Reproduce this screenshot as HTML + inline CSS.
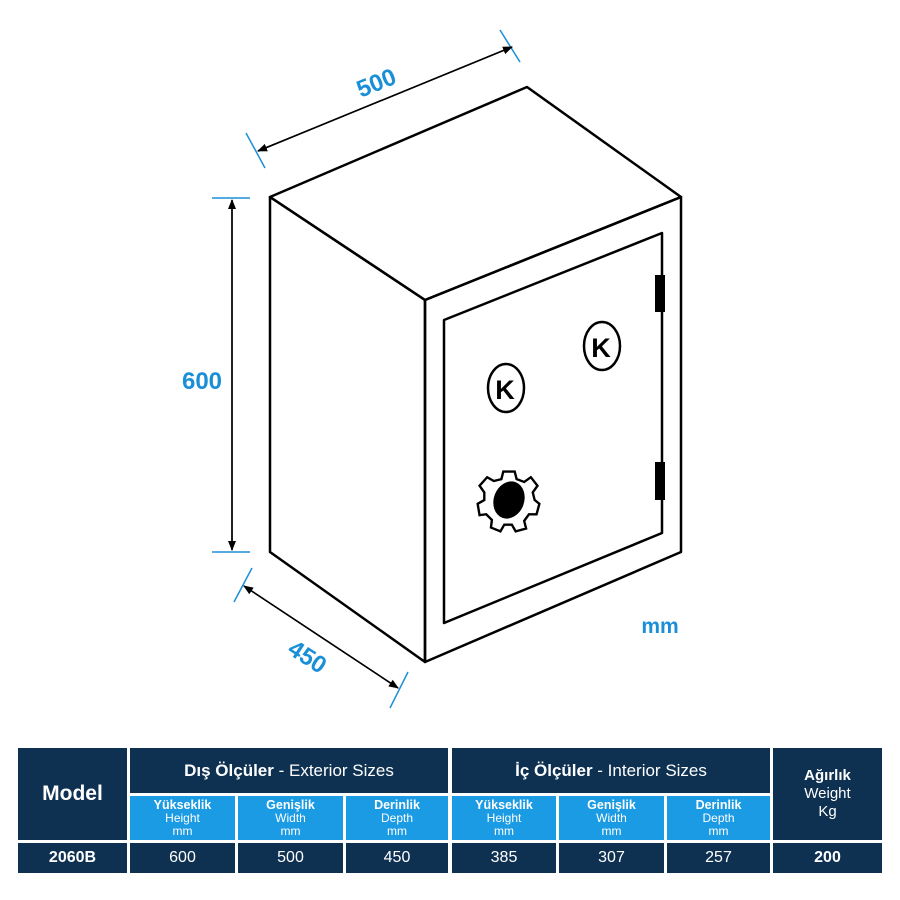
<!DOCTYPE html><html><head><style>
body{margin:0;width:900px;height:900px;background:#fff;overflow:hidden;font-family:"Liberation Sans",sans-serif}
.c{position:absolute;background:#0e3152;color:#fff;text-align:center;box-sizing:border-box;display:flex;flex-direction:column;justify-content:center;align-items:center}
.s{background:#1b9be3;font-size:12px;line-height:13px}
.s b{font-size:12.5px}
</style></head><body>
<svg width="900" height="900" style="position:absolute;left:0;top:0">
<defs><marker id="a" markerWidth="10" markerHeight="10" refX="9" refY="5" orient="auto" markerUnits="userSpaceOnUse"><path d="M0,1 L10,5 L0,9z" fill="#000"/></marker></defs>
<g fill="none" stroke="#000" stroke-width="2.5" stroke-linejoin="round">
<polygon points="270,197 527,87 681,197 425,300"/>
<polygon points="270,197 425,300 425,662 270,552"/>
<polygon points="425,300 681,197 681,552 425,662"/>
<polygon points="444,320 662,233 662,533 444,623"/>
<ellipse cx="506" cy="388" rx="18" ry="24"/>
<ellipse cx="602" cy="346" rx="18" ry="24"/>
</g>
<rect x="655" y="275" width="10" height="37" fill="#000"/>
<rect x="655" y="462" width="10" height="38" fill="#000"/>
<text x="505" y="399" font-size="27" font-weight="bold" text-anchor="middle">K</text>
<text x="601" y="357" font-size="27" font-weight="bold" text-anchor="middle">K</text>
<g transform="translate(509,500) scale(0.95)">
<path fill="#fff" stroke="#000" stroke-width="2.5" d="M-6,-30 L6,-30 L8,-22 L16,-19 L23,-24 L30,-15 L25,-8 L27,0 L32,4 L29,15 L21,15 L16,22 L18,30 L7,33 L3,26 L-5,26 L-9,33 L-19,29 L-18,21 L-24,15 L-31,16 L-33,4 L-26,0 L-26,-8 L-31,-15 L-23,-24 L-16,-20 L-8,-22 Z"/>
<ellipse cx="0" cy="0" rx="16" ry="20" transform="rotate(20)" fill="#000"/>
</g>
<g stroke="#1a8fd8" stroke-width="1.5">
<line x1="246" y1="133" x2="265" y2="168"/><line x1="500" y1="30" x2="520" y2="62"/>
<line x1="212" y1="198" x2="250" y2="198"/><line x1="212" y1="552" x2="250" y2="552"/>
<line x1="252" y1="568" x2="234" y2="602"/><line x1="408" y1="672" x2="390" y2="708"/>
</g>
<g stroke="#000" stroke-width="1.5" marker-end="url(#a)">
<line x1="258" y1="151" x2="512" y2="47"/>
<line x1="512" y1="47" x2="258" y2="151"/>
<line x1="232" y1="200" x2="232" y2="550"/>
<line x1="232" y1="550" x2="232" y2="200"/>
<line x1="244" y1="586" x2="398" y2="688"/>
<line x1="398" y1="688" x2="244" y2="586"/>
</g>
<g fill="#1a8fd8" font-weight="bold" font-size="24">
<text x="376" y="91" text-anchor="middle" transform="rotate(-22 376 82)">500</text>
<text x="202" y="389" text-anchor="middle">600</text>
<text x="308" y="665" text-anchor="middle" transform="rotate(33 308 656)">450</text>
<text x="660" y="633" text-anchor="middle" font-size="21">mm</text>
</g>
</svg>
<div class="c" style="left:18px;top:748px;width:109px;height:92px;font-size:21px;font-weight:bold">Model</div>
<div class="c" style="left:130px;top:748px;width:318px;height:45px;font-size:17px"><span><b>Dış Ölçüler</b> - Exterior Sizes</span></div>
<div class="c" style="left:452px;top:748px;width:318px;height:45px;font-size:17px"><span><b>İç Ölçüler</b> - Interior Sizes</span></div>
<div class="c" style="left:773px;top:748px;width:109px;height:92px;font-size:15px;line-height:18px"><b>Ağırlık</b>Weight<br>Kg</div>
<div class="c s" style="left:130px;top:796px;width:105px;height:44px"><b>Yükseklik</b>Height<br>mm</div>
<div class="c s" style="left:238px;top:796px;width:105px;height:44px"><b>Genişlik</b>Width<br>mm</div>
<div class="c s" style="left:346px;top:796px;width:102px;height:44px"><b>Derinlik</b>Depth<br>mm</div>
<div class="c s" style="left:452px;top:796px;width:104px;height:44px"><b>Yükseklik</b>Height<br>mm</div>
<div class="c s" style="left:559px;top:796px;width:105px;height:44px"><b>Genişlik</b>Width<br>mm</div>
<div class="c s" style="left:667px;top:796px;width:103px;height:44px"><b>Derinlik</b>Depth<br>mm</div>
<div class="c" style="left:18px;top:843px;width:109px;height:30px;font-size:16px;font-weight:bold">2060B</div>
<div class="c" style="left:130px;top:843px;width:105px;height:30px;font-size:16px">600</div>
<div class="c" style="left:238px;top:843px;width:105px;height:30px;font-size:16px">500</div>
<div class="c" style="left:346px;top:843px;width:102px;height:30px;font-size:16px">450</div>
<div class="c" style="left:452px;top:843px;width:104px;height:30px;font-size:16px">385</div>
<div class="c" style="left:559px;top:843px;width:105px;height:30px;font-size:16px">307</div>
<div class="c" style="left:667px;top:843px;width:103px;height:30px;font-size:16px">257</div>
<div class="c" style="left:773px;top:843px;width:109px;height:30px;font-size:16px;font-weight:bold">200</div>
</body></html>
